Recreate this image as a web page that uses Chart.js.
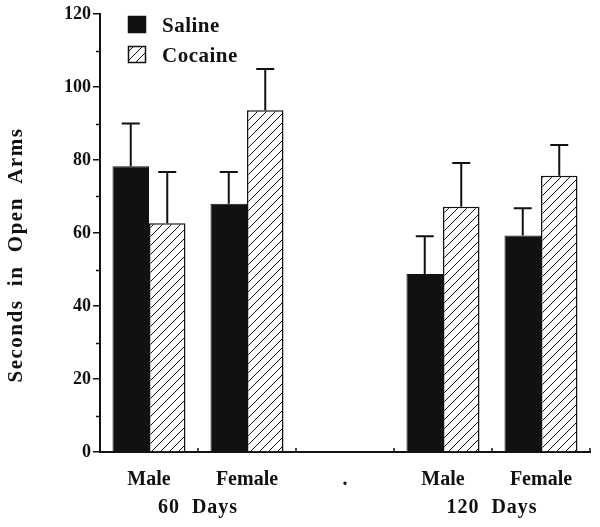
<!DOCTYPE html>
<html>
<head>
<meta charset="utf-8">
<script src="https://cdn.jsdelivr.net/npm/chart.js@4"></script>
<style>
  body { margin: 0; background: #fff; }
  #wrap { width: 600px; height: 527px; }
</style>
</head>
<body>
<div id="wrap"><canvas id="chart" width="600" height="527"></canvas></div>
<script>
// --------------- Data ---------------
const categories = ["Male", "Female", ".", "Male", "Female"];
const salineMeans = [78.3, 68.0, null, 48.8, 59.3];
const salineSem = [11.7, 8.7, null, 10.3, 7.5];
const cocaineMeans = [62.7, 93.6, null, 67.2, 75.7];
const cocaineSem = [14.0, 11.3, null, 12.0, 8.4];
const groupLabels = ["60  Days", "120  Days"];
const groupSpans = [[0, 1], [3, 4]];
const yMin = 0, yMax = 120, yStep = 20;

const INK = "#111";
const SERIF = "'Liberation Serif', 'DejaVu Serif', serif";

// diagonal hatch for the cocaine bars
function makeHatch() {
  const s = 9;
  const c = document.createElement("canvas");
  c.width = s; c.height = s;
  const g = c.getContext("2d");
  g.fillStyle = "#fff";
  g.fillRect(0, 0, s, s);
  g.strokeStyle = INK;
  g.lineWidth = 1;
  g.beginPath();
  g.moveTo(0, s); g.lineTo(s, 0);
  g.moveTo(-1, 1); g.lineTo(1, -1);
  g.moveTo(s - 1, s + 1); g.lineTo(s + 1, s - 1);
  g.stroke();
  return g.createPattern(c, "repeat");
}

// --------------- Plugin: error bars, ticks, legend, labels ---------------
const extras = {
  id: "extras",
  afterDatasetsDraw(chart) {
    const ctx = chart.ctx;
    const y = chart.scales.y;
    ctx.save();
    ctx.strokeStyle = INK;
    ctx.lineWidth = 2;
    chart.data.datasets.forEach((ds, i) => {
      const meta = chart.getDatasetMeta(i);
      meta.data.forEach((bar, j) => {
        const v = ds.data[j];
        if (v == null) return;
        const top = y.getPixelForValue(v + ds.sem[j]);
        ctx.beginPath();
        ctx.moveTo(bar.x, bar.y);
        ctx.lineTo(bar.x, top);
        ctx.moveTo(bar.x - 9, top);
        ctx.lineTo(bar.x + 9, top);
        ctx.stroke();
      });
    });
    ctx.restore();
  },
  afterDraw(chart) {
    const ctx = chart.ctx;
    const x = chart.scales.x, y = chart.scales.y;
    const area = chart.chartArea;
    ctx.save();
    ctx.strokeStyle = INK;
    ctx.lineWidth = 1.5;

    // minor y ticks
    for (let v = yMin + yStep / 2; v < yMax; v += yStep) {
      const py = Math.round(y.getPixelForValue(v)) + 0.5;
      ctx.beginPath();
      ctx.moveTo(area.left - 4, py);
      ctx.lineTo(area.left, py);
      ctx.stroke();
    }

    // x ticks at category edges, pointing up
    const catW = x.getPixelForValue(1) - x.getPixelForValue(0);
    for (let i = 0; i <= categories.length; i++) {
      const px = x.getPixelForValue(0) - catW / 2 + i * catW;
      ctx.beginPath();
      ctx.moveTo(px, area.bottom);
      ctx.lineTo(px, area.bottom - 4);
      ctx.stroke();
    }

    // group labels under the category labels
    ctx.fillStyle = INK;
    ctx.font = "bold 20px " + SERIF;
    ctx.textAlign = "center";
    ctx.textBaseline = "middle";
    ctx.letterSpacing = "1px";
    groupSpans.forEach((span, k) => {
      const cx = (x.getPixelForValue(span[0]) + x.getPixelForValue(span[1])) / 2;
      ctx.fillText(groupLabels[k], cx, 508);
    });

    // y axis title
    ctx.save();
    ctx.font = "bold 21px " + SERIF;
    ctx.letterSpacing = "1.5px";
    ctx.translate(17, 255);
    ctx.rotate(-Math.PI / 2);
    ctx.fillText("Seconds  in  Open  Arms", 0, 0);
    ctx.restore();

    // legend
    ctx.textAlign = "left";
    ctx.font = "bold 21px " + SERIF;
    ctx.letterSpacing = "0.5px";
    const rows = [16, 46];
    chart.data.datasets.forEach((ds, i) => {
      const top = rows[i];
      ctx.fillStyle = ds.backgroundColor;
      ctx.fillRect(128, top, 17, 16);
      ctx.lineWidth = 1.5;
      ctx.strokeRect(128.5, top + 0.5, 17, 16);
      ctx.fillStyle = INK;
      ctx.fillText(ds.label, 162, top + 11);
    });
    ctx.restore();
  }
};

// --------------- Chart ---------------
const chart = new Chart(document.getElementById("chart"), {
  type: "bar",
  data: {
    labels: categories,
    datasets: [
      {
        label: "Saline",
        data: salineMeans,
        sem: salineSem,
        backgroundColor: INK,
        borderColor: INK,
        borderWidth: 1
      },
      {
        label: "Cocaine",
        data: cocaineMeans,
        sem: cocaineSem,
        backgroundColor: makeHatch(),
        borderColor: INK,
        borderWidth: 1.5
      }
    ]
  },
  options: {
    responsive: false,
    animation: false,
    layout: { padding: { top: 14, right: 10, left: 0, bottom: 0 } },
    plugins: { legend: { display: false }, tooltip: { enabled: false } },
    datasets: { bar: { barPercentage: 1, categoryPercentage: 0.745 } },
    scales: {
      x: {
        grid: { display: false },
        border: { display: true, color: INK, width: 2 },
        ticks: { color: INK, padding: 8, font: { family: SERIF, size: 20, weight: "bold" } },
        afterFit(s) { s.height = 75; }
      },
      y: {
        min: yMin,
        max: yMax,
        grid: { drawOnChartArea: false, color: INK, lineWidth: 1.5, tickLength: 7 },
        border: { display: true, color: INK, width: 2 },
        ticks: { stepSize: yStep, color: INK, padding: 2, font: { family: SERIF, size: 18, weight: "bold" } },
        afterFit(s) { s.width = 100; }
      }
    }
  },
  plugins: [extras]
});
</script>
</body>
</html>
